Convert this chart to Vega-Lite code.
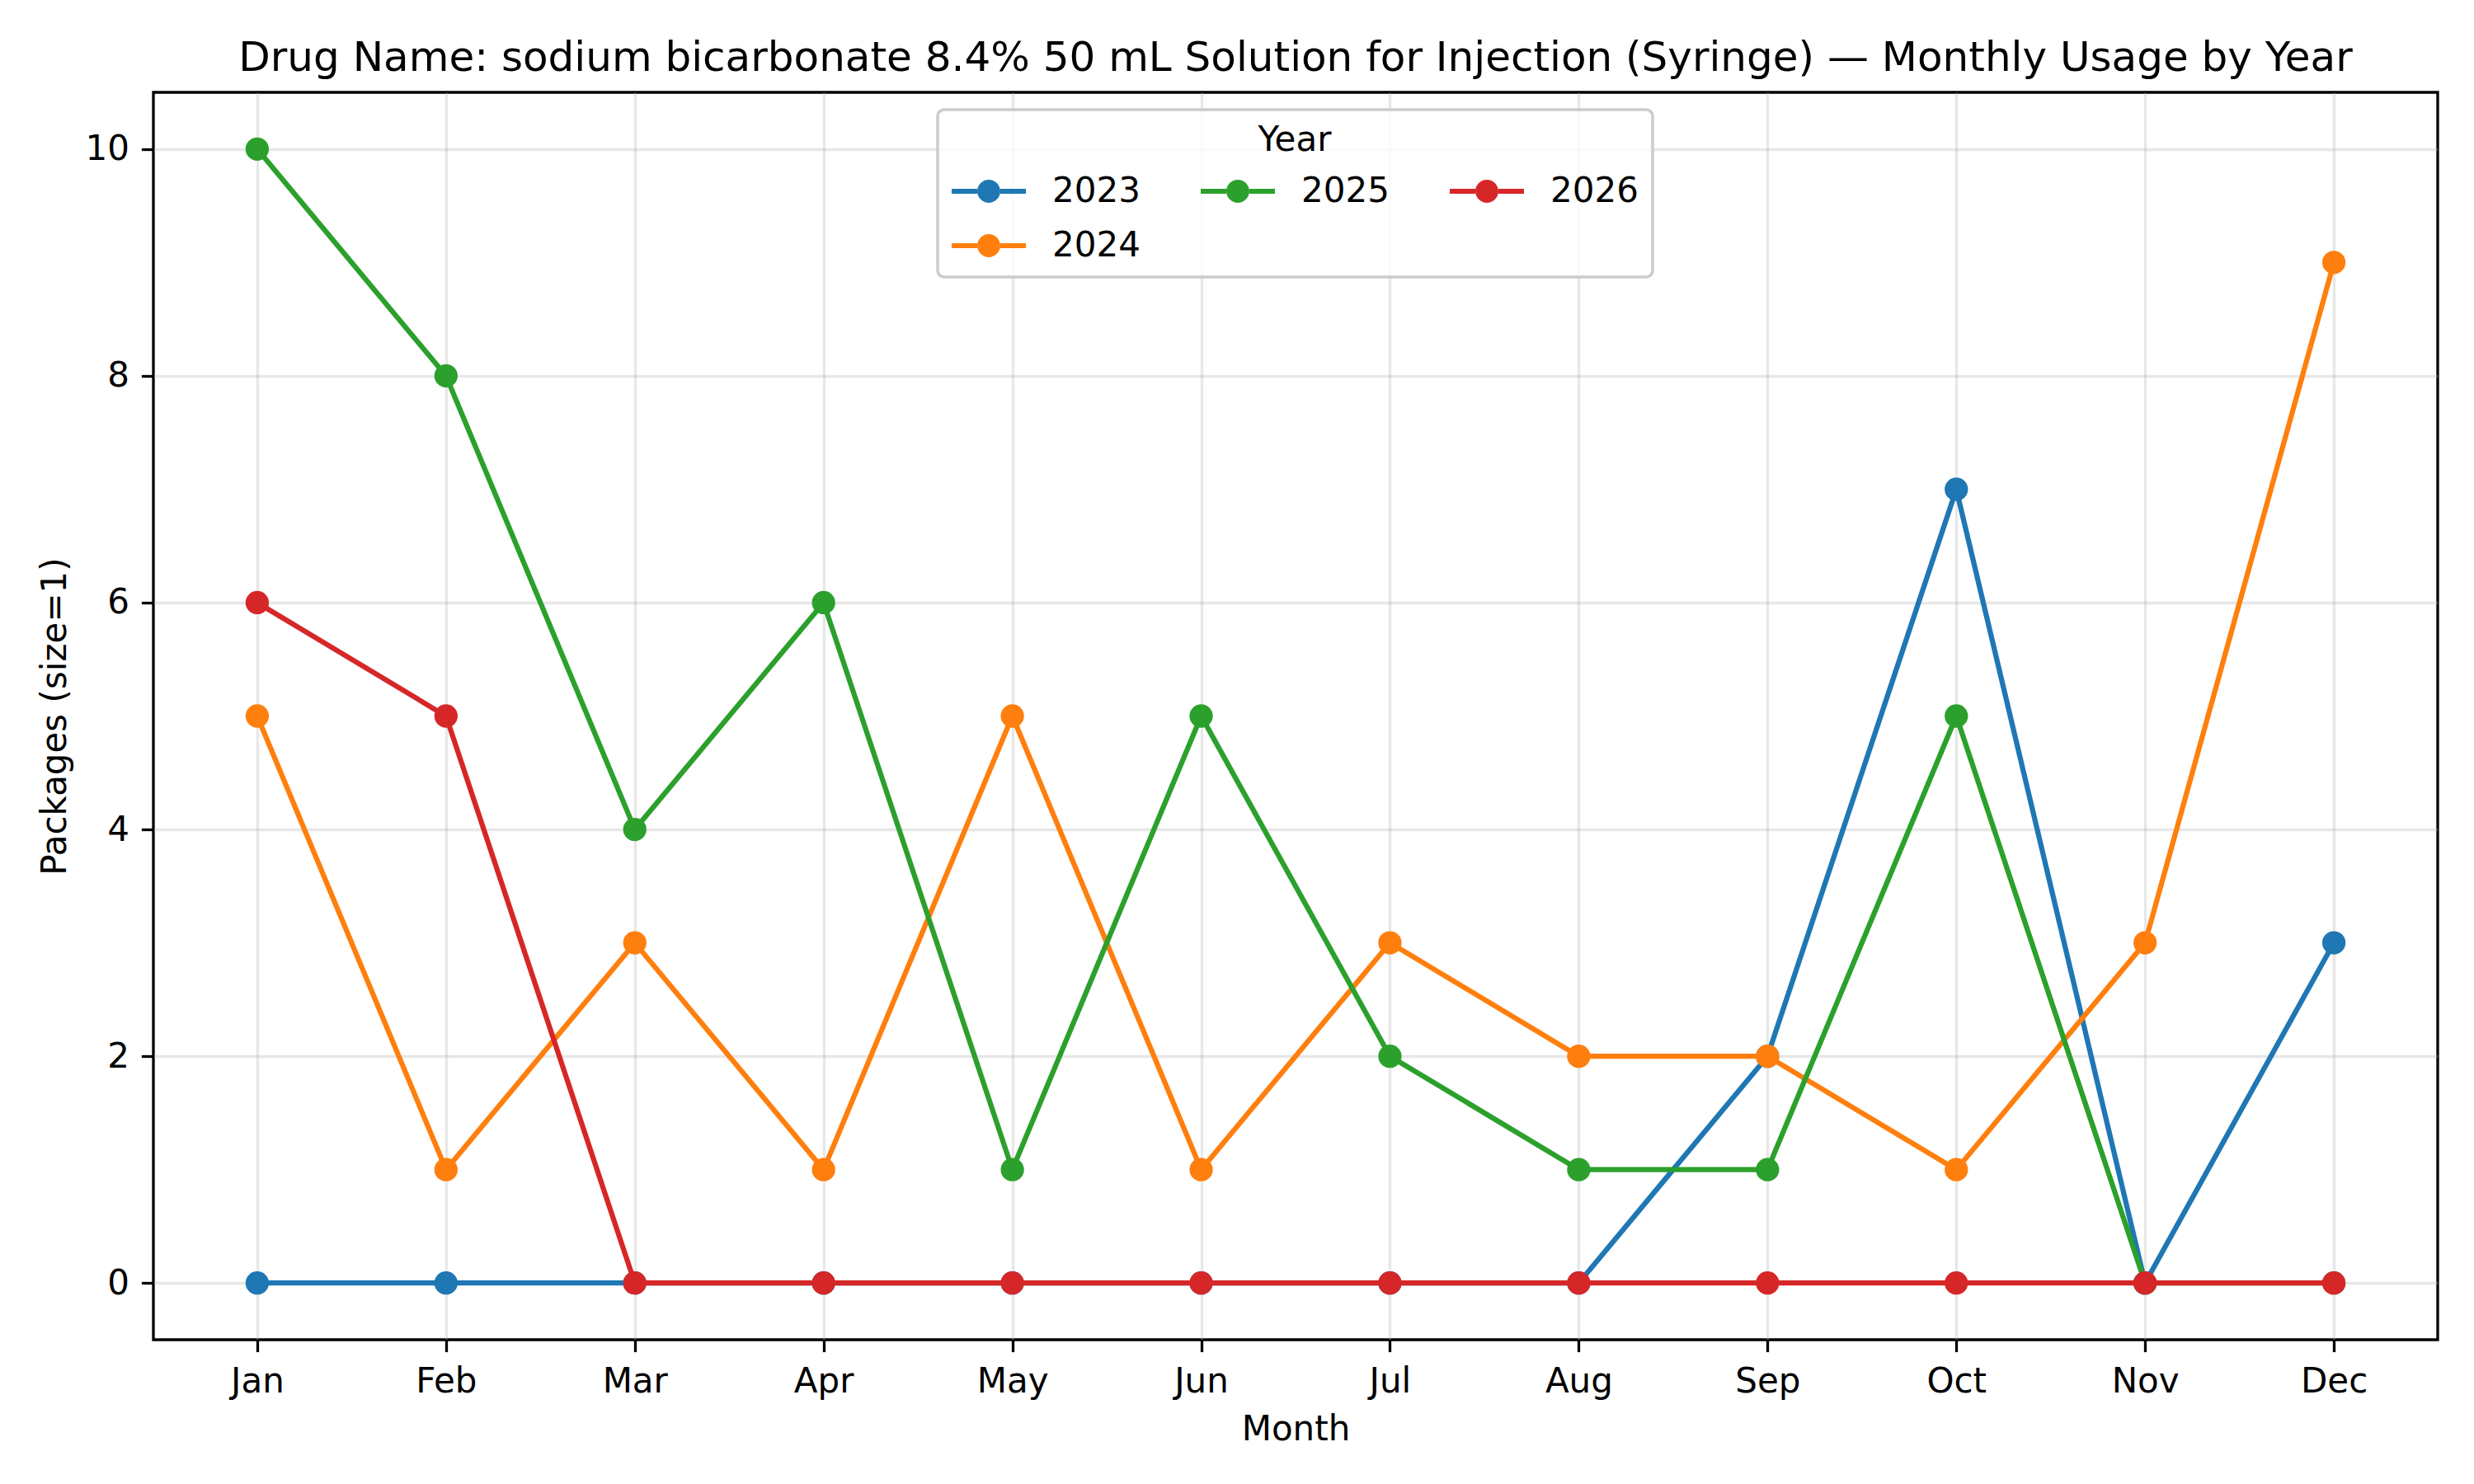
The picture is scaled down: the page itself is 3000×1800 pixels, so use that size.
{
  "$schema": "https://vega.github.io/schema/vega-lite/v6.json",
  "width": 2770,
  "height": 1513,
  "autosize": {"type": "none"},
  "padding": {"left": 186, "top": 112, "right": 44, "bottom": 175},
  "background": "white",
  "config": {
    "font": "DejaVu Sans",
    "view": {"stroke": "black", "strokeWidth": 3.3},
    "axis": {
      "labelFont": "DejaVu Sans", "titleFont": "DejaVu Sans",
      "labelFontSize": 42, "titleFontSize": 42,
      "labelColor": "black", "titleColor": "black",
      "titleFontWeight": "normal",
      "domain": false,
      "tickColor": "black", "tickWidth": 3.3, "tickSize": 14.6,
      "gridColor": "#b0b0b0", "gridOpacity": 0.3, "gridWidth": 3.3
    }
  },
  "title": {
    "text": "Drug Name: sodium bicarbonate 8.4% 50 mL Solution for Injection (Syringe) — Monthly Usage by Year",
    "font": "DejaVu Sans", "fontSize": 50, "fontWeight": "normal", "color": "black",
    "anchor": "middle", "frame": "group", "baseline": "alphabetic", "offset": 25, "dy": 49
  },
  "data": {
    "values": [
      {"month": "Jan", "year": "2023", "packages": 0},
      {"month": "Feb", "year": "2023", "packages": 0},
      {"month": "Mar", "year": "2023", "packages": 0},
      {"month": "Apr", "year": "2023", "packages": 0},
      {"month": "May", "year": "2023", "packages": 0},
      {"month": "Jun", "year": "2023", "packages": 0},
      {"month": "Jul", "year": "2023", "packages": 0},
      {"month": "Aug", "year": "2023", "packages": 0},
      {"month": "Sep", "year": "2023", "packages": 2},
      {"month": "Oct", "year": "2023", "packages": 7},
      {"month": "Nov", "year": "2023", "packages": 0},
      {"month": "Dec", "year": "2023", "packages": 3},
      {"month": "Jan", "year": "2024", "packages": 5},
      {"month": "Feb", "year": "2024", "packages": 1},
      {"month": "Mar", "year": "2024", "packages": 3},
      {"month": "Apr", "year": "2024", "packages": 1},
      {"month": "May", "year": "2024", "packages": 5},
      {"month": "Jun", "year": "2024", "packages": 1},
      {"month": "Jul", "year": "2024", "packages": 3},
      {"month": "Aug", "year": "2024", "packages": 2},
      {"month": "Sep", "year": "2024", "packages": 2},
      {"month": "Oct", "year": "2024", "packages": 1},
      {"month": "Nov", "year": "2024", "packages": 3},
      {"month": "Dec", "year": "2024", "packages": 9},
      {"month": "Jan", "year": "2025", "packages": 10},
      {"month": "Feb", "year": "2025", "packages": 8},
      {"month": "Mar", "year": "2025", "packages": 4},
      {"month": "Apr", "year": "2025", "packages": 6},
      {"month": "May", "year": "2025", "packages": 1},
      {"month": "Jun", "year": "2025", "packages": 5},
      {"month": "Jul", "year": "2025", "packages": 2},
      {"month": "Aug", "year": "2025", "packages": 1},
      {"month": "Sep", "year": "2025", "packages": 1},
      {"month": "Oct", "year": "2025", "packages": 5},
      {"month": "Nov", "year": "2025", "packages": 0},
      {"month": "Dec", "year": "2025", "packages": 0},
      {"month": "Jan", "year": "2026", "packages": 6},
      {"month": "Feb", "year": "2026", "packages": 5},
      {"month": "Mar", "year": "2026", "packages": 0},
      {"month": "Apr", "year": "2026", "packages": 0},
      {"month": "May", "year": "2026", "packages": 0},
      {"month": "Jun", "year": "2026", "packages": 0},
      {"month": "Jul", "year": "2026", "packages": 0},
      {"month": "Aug", "year": "2026", "packages": 0},
      {"month": "Sep", "year": "2026", "packages": 0},
      {"month": "Oct", "year": "2026", "packages": 0},
      {"month": "Nov", "year": "2026", "packages": 0},
      {"month": "Dec", "year": "2026", "packages": 0}
    ]
  },
  "encoding": {
    "x": {
      "field": "month", "type": "ordinal",
      "sort": ["Jan","Feb","Mar","Apr","May","Jun","Jul","Aug","Sep","Oct","Nov","Dec"],
      "scale": {"type": "point", "padding": 0.55},
      "axis": {"title": "Month", "labelAngle": 0, "labelPadding": 16, "titlePadding": 17, "grid": true}
    },
    "y": {
      "field": "packages", "type": "quantitative",
      "scale": {"domain": [-0.5, 10.5], "nice": false, "zero": false},
      "axis": {"title": "Packages (size=1)", "values": [0,2,4,6,8,10], "labelPadding": 15, "titlePadding": 14, "grid": true}
    },
    "color": {
      "field": "year", "type": "nominal",
      "scale": {"domain": ["2023","2024","2025","2026"], "range": ["#1f77b4","#ff7f0e","#2ca02c","#d62728"]},
      "legend": {
        "title": "Year",
        "values": ["2023","2026","2025","2024"],
        "orient": "none", "legendX": 951, "legendY": 21,
        "columns": 3,
        "titleFont": "DejaVu Sans", "labelFont": "DejaVu Sans",
        "titleFontSize": 42, "labelFontSize": 42,
        "titleFontWeight": "normal", "titleColor": "black", "labelColor": "black",
        "titleAnchor": "middle", "titleAlign": "center",
        "titlePadding": -5,
        "symbolType": "M-1,-0.067L-0.31,-0.067L-0.31,0.067L-1,0.067Z M0.31,-0.067L1,-0.067L1,0.067L0.31,0.067Z M0.31,0A0.31,0.31 0 1,1 -0.31,0A0.31,0.31 0 1,1 0.31,0Z",
        "symbolSize": 8100,
        "symbolStrokeWidth": 0,
        "labelOffset": 32,
        "columnPadding": 73,
        "rowPadding": -8,
        "padding": 17,
        "fillColor": "rgba(255,255,255,0.8)",
        "strokeColor": "#cccccc",
        "cornerRadius": 8,
        "encode": {
          "symbols": {"update": {"fill": {"scale": "color", "field": "value"}, "stroke": {"value": "transparent"}, "opacity": {"value": 1}}},
          "legend": {"update": {"strokeWidth": {"value": 3.5}}}
        }
      }
    }
  },
  "layer": [
    {"transform": [{"filter": "datum.year == '2023'"}], "mark": {"type": "line", "strokeWidth": 6.25, "point": {"filled": true, "size": 800, "opacity": 1}}},
    {"transform": [{"filter": "datum.year == '2024'"}], "mark": {"type": "line", "strokeWidth": 6.25, "point": {"filled": true, "size": 800, "opacity": 1}}},
    {"transform": [{"filter": "datum.year == '2025'"}], "mark": {"type": "line", "strokeWidth": 6.25, "point": {"filled": true, "size": 800, "opacity": 1}}},
    {"transform": [{"filter": "datum.year == '2026'"}], "mark": {"type": "line", "strokeWidth": 6.25, "point": {"filled": true, "size": 800, "opacity": 1}}}
  ]
}
